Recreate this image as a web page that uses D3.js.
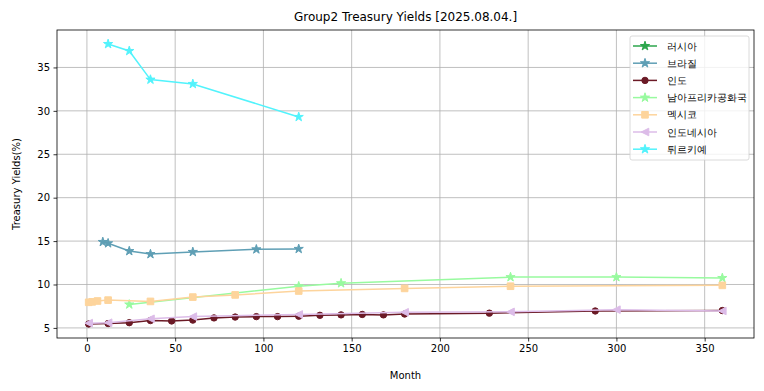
<!DOCTYPE html>
<html>
<head>
<meta charset="utf-8">
<script src="https://cdn.jsdelivr.net/npm/d3@7"></script>
<style>
  body { margin: 0; background: #fff; }
  text { font-family: "DejaVu Sans", sans-serif; }
</style>
</head>
<body>
<svg id="chart" width="764" height="391"></svg>
<script>
// yields by maturity (months)
const russiaMonths = [];
const russiaYields = [];
const brazilMonths = [9, 12, 24, 36, 60, 96, 120];
const brazilYields = [14.9, 14.75, 13.85, 13.5, 13.75, 14.05, 14.1];
const indiaMonths = [1, 12, 24, 36, 48, 60, 72, 84, 96, 108, 120, 132, 144, 156, 168, 180, 228, 288, 360];
const indiaYields = [5.45, 5.5, 5.6, 5.85, 5.8, 5.9, 6.15, 6.25, 6.3, 6.3, 6.35, 6.45, 6.5, 6.55, 6.5, 6.6, 6.7, 6.95, 7.0];
const safricaMonths = [24, 120, 144, 240, 300, 360];
const safricaYields = [7.7, 9.8, 10.15, 10.85, 10.85, 10.75];
const mexicoMonths = [1, 3, 6, 12, 36, 60, 84, 120, 180, 240, 360];
const mexicoYields = [7.95, 8.0, 8.1, 8.2, 8.05, 8.55, 8.8, 9.25, 9.55, 9.8, 9.9];
const indonesiaMonths = [1, 12, 36, 60, 120, 180, 240, 300, 360];
const indonesiaYields = [5.55, 5.6, 6.05, 6.3, 6.55, 6.8, 6.85, 7.1, 6.95];
const turkeyMonths = [12, 24, 36, 60, 120];
const turkeyYields = [37.7, 36.9, 33.6, 33.1, 29.3];

const xTicks = [0, 50, 100, 150, 200, 250, 300, 350];
const yTicks = [5, 10, 15, 20, 25, 30, 35];

// left-pointing triangle like matplotlib "<"
const triLeft = {
  draw(ctx, size) {
    const r = Math.sqrt(size) * 0.6;
    ctx.moveTo(-r, 0);
    ctx.lineTo(r, -r);
    ctx.lineTo(r, r);
    ctx.closePath();
  }
};

const series = [
  { name: "러시아", months: russiaMonths, yields: russiaYields, color: "#2ca64c", symbol: d3.symbolStar, size: 26 },
  { name: "브라질", months: brazilMonths, yields: brazilYields, color: "#5f9fb5", symbol: d3.symbolStar, size: 26 },
  { name: "인도", months: indiaMonths, yields: indiaYields, color: "#6b1a26", symbol: d3.symbolCircle, size: 32 },
  { name: "남아프리카공화국", months: safricaMonths, yields: safricaYields, color: "#98fa9f", symbol: d3.symbolStar, size: 26 },
  { name: "멕시코", months: mexicoMonths, yields: mexicoYields, color: "#fdd49c", symbol: d3.symbolSquare, size: 44 },
  { name: "인도네시아", months: indonesiaMonths, yields: indonesiaYields, color: "#dcbce8", symbol: triLeft, size: 40 },
  { name: "튀르키예", months: turkeyMonths, yields: turkeyYields, color: "#52f3fc", symbol: d3.symbolStar, size: 26 }
];

const svg = d3.select("#chart");
const plot = { left: 57, right: 754, top: 30, bottom: 338 };

// matplotlib-style 5% margins
const allX = series.flatMap(s => s.months);
const allY = series.flatMap(s => s.yields);
const [x0, x1] = d3.extent(allX);
const [y0, y1] = d3.extent(allY);
const xPad = (x1 - x0) * 0.05, yPad = (y1 - y0) * 0.05;

const x = d3.scaleLinear().domain([x0 - xPad, x1 + xPad]).range([plot.left, plot.right]);
const y = d3.scaleLinear().domain([y0 - yPad, y1 + yPad]).range([plot.bottom, plot.top]);

// grid
const grid = svg.append("g");
grid.selectAll(".gx").data(xTicks).join("line")
  .attr("x1", d => x(d)).attr("x2", d => x(d))
  .attr("y1", plot.top).attr("y2", plot.bottom)
  .attr("stroke", "#b0b0b0").attr("stroke-width", 0.8);
grid.selectAll(".gy").data(yTicks).join("line")
  .attr("x1", plot.left).attr("x2", plot.right)
  .attr("y1", d => y(d)).attr("y2", d => y(d))
  .attr("stroke", "#b0b0b0").attr("stroke-width", 0.8);

// axes
const xAxis = svg.append("g").attr("transform", `translate(0,${plot.bottom})`)
  .call(d3.axisBottom(x).tickValues(xTicks).tickSize(3.5).tickPadding(3.5));
const yAxis = svg.append("g").attr("transform", `translate(${plot.left},0)`)
  .call(d3.axisLeft(y).tickValues(yTicks).tickSize(3.5).tickPadding(3.5));
[xAxis, yAxis].forEach(a => {
  a.select(".domain").remove();
  a.selectAll("text").attr("font-size", 10).attr("fill", "#000").attr("font-family", "DejaVu Sans");
  a.selectAll("line").attr("stroke", "#000").attr("stroke-width", 0.8);
});

// series lines + markers
const line = d3.line().x(d => x(d[0])).y(d => y(d[1]));
series.forEach(s => {
  const pts = s.months.map((m, i) => [m, s.yields[i]]);
  const g = svg.append("g");
  g.append("path").datum(pts)
    .attr("d", line)
    .attr("fill", "none")
    .attr("stroke", s.color)
    .attr("stroke-width", 1.5);
  g.selectAll("path.mk").data(pts).join("path")
    .attr("class", "mk")
    .attr("transform", d => `translate(${x(d[0])},${y(d[1])})`)
    .attr("d", d3.symbol(s.symbol, s.size))
    .attr("fill", s.color)
    .attr("stroke", s.color)
    .attr("stroke-width", 1);
});

// frame
svg.append("rect")
  .attr("x", plot.left).attr("y", plot.top)
  .attr("width", plot.right - plot.left).attr("height", plot.bottom - plot.top)
  .attr("fill", "none").attr("stroke", "#000").attr("stroke-width", 0.8);

// labels
svg.append("text").attr("x", (plot.left + plot.right) / 2).attr("y", 21)
  .attr("text-anchor", "middle").attr("font-size", 12)
  .text("Group2 Treasury Yields [2025.08.04.]");
svg.append("text").attr("x", (plot.left + plot.right) / 2).attr("y", 379)
  .attr("text-anchor", "middle").attr("font-size", 10)
  .text("Month");
svg.append("text")
  .attr("transform", `translate(20,${(plot.top + plot.bottom) / 2}) rotate(-90)`)
  .attr("text-anchor", "middle").attr("font-size", 10)
  .text("Treasury Yields(%)");

// legend
const lg = svg.append("g").attr("transform", "translate(630,36)");
lg.append("rect").attr("width", 119).attr("height", 124).attr("rx", 2)
  .attr("fill", "#fff").attr("fill-opacity", 0.8)
  .attr("stroke", "#d0d0d0").attr("stroke-width", 0.8);
series.forEach((s, i) => {
  const ry = 10 + i * 17.2;
  lg.append("line").attr("x1", 3).attr("x2", 27).attr("y1", ry).attr("y2", ry)
    .attr("stroke", s.color).attr("stroke-width", 1.5);
  lg.append("path").attr("transform", `translate(15,${ry})`)
    .attr("d", d3.symbol(s.symbol, s.size)).attr("fill", s.color).attr("stroke", s.color);
  lg.append("text").attr("x", 37).attr("y", ry + 3.6)
    .attr("font-size", 9.6).attr("font-family", "Noto Sans CJK KR")
    .text(s.name);
});
</script>
</body>
</html>
